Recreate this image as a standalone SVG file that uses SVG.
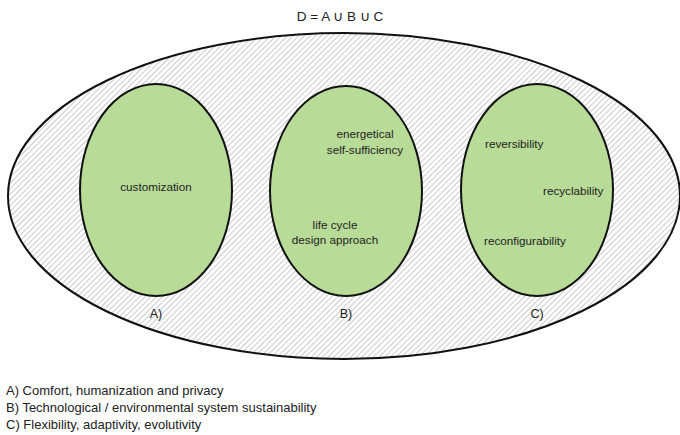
<svg xmlns="http://www.w3.org/2000/svg" width="680" height="435" viewBox="0 0 680 435">
<defs>
<pattern id="hatch" patternUnits="userSpaceOnUse" width="4" height="4" patternTransform="rotate(45)">
<rect width="4" height="4" fill="#ffffff"/>
<line x1="0" y1="0" x2="0" y2="4" stroke="#a8a8a8" stroke-width="1.2"/>
</pattern>
<style>
.t{font-family:"Liberation Sans",Arial,sans-serif;font-size:11.7px;fill:#222}
.c{text-anchor:middle}
.l{font-size:12.5px}
.g{font-size:13px}
.set{fill:#b8dc98;stroke:#111;stroke-width:2}
</style>
</defs>
<rect width="680" height="435" fill="#ffffff"/>
<text class="t c" x="340" y="21" style="font-size:13.5px">D = A ∪ B ∪ C</text>
<g id="D">
<ellipse cx="344" cy="196" rx="336" ry="163" fill="url(#hatch)" stroke="#111" stroke-width="2"/>
</g>
<g id="A">
<ellipse class="set" cx="156" cy="190" rx="76" ry="106"/>
<text class="t c" x="156" y="191">customization</text>
<text class="t c l" x="156" y="318">A)</text>
</g>
<g id="B">
<ellipse class="set" cx="346" cy="191" rx="76" ry="105"/>
<text class="t c" x="365" y="138">energetical</text>
<text class="t c" x="365" y="154">self-sufficiency</text>
<text class="t c" x="335" y="229">life cycle</text>
<text class="t c" x="335" y="244">design approach</text>
<text class="t c l" x="346" y="318">B)</text>
</g>
<g id="C">
<ellipse class="set" cx="537" cy="190" rx="76" ry="106"/>
<text class="t" x="485" y="148">reversibility</text>
<text class="t" x="543" y="195">recyclability</text>
<text class="t" x="484" y="245">reconfigurability</text>
<text class="t c l" x="537" y="318">C)</text>
</g>
<g id="connectors"></g>
<g id="legend">
<text class="t g" x="6" y="395">A) Comfort, humanization and privacy</text>
<text class="t g" x="6" y="412">B) Technological / environmental system sustainability</text>
<text class="t g" x="6" y="429">C) Flexibility, adaptivity, evolutivity</text>
</g>
</svg>
